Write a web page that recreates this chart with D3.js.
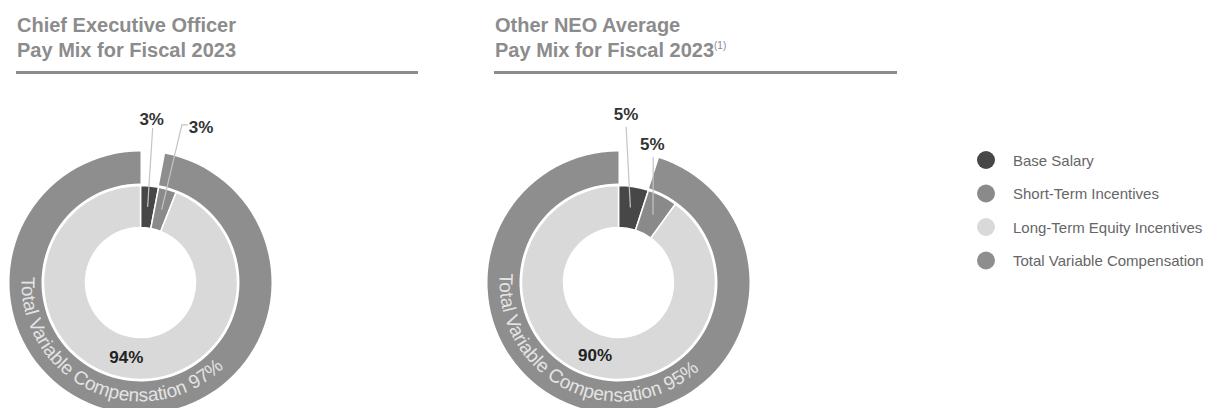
<!DOCTYPE html>
<html>
<head>
<meta charset="utf-8">
<script src="https://cdn.jsdelivr.net/npm/d3@7/dist/d3.min.js"></script>
<style>
  html, body { margin: 0; padding: 0; background: #fff; }
  svg { display: block; font-family: "Liberation Sans", Arial, Helvetica, sans-serif; }
</style>
</head>
<body>
<svg id="chart" width="1215" height="408"></svg>
<script>
// Pay mix data
const categories = ["Base Salary", "Short-Term Incentives", "Long-Term Equity Incentives", "Total Variable Compensation"];
const categoryColors = ["#474747", "#8a8a8a", "#d9d9d9", "#8e8e8e"];

const chartTitles = [
  ["Chief Executive Officer", "Pay Mix for Fiscal 2023"],
  ["Other NEO Average", "Pay Mix for Fiscal 2023"]
];
const titleNotes = ["", "(1)"];

// Base salary, short-term incentives, long-term equity incentives (%)
const ceoMix = [3, 3, 94];
const neoMix = [5, 5, 90];
// Total variable compensation (%)
const ceoVariable = 97;
const neoVariable = 95;

const svg = d3.select("#chart");

// Layout for each donut panel
const panels = [
  {
    x: 17, cx: 140.5, cy: 282.5, ruleEnd: 418,
    mix: ceoMix, variable: ceoVariable, textStart: 272.8,
    leaders: [
      { slice: 0, r: 155, deg: 4.5, stub: 0, dx: -1, dy: -3, anchor: "middle" },
      { slice: 1, r: 163, deg: 14.7, stub: 6, dx: 1, dy: 8, anchor: "start" }
    ]
  },
  {
    x: 495, cx: 618.5, cy: 282.5, ruleEnd: 897,
    mix: neoMix, variable: neoVariable, textStart: 274.5,
    leaders: [
      { slice: 0, r: 156, deg: 2.8, stub: 0, dx: 0, dy: -7, anchor: "middle" },
      { slice: 1, r: 130, deg: 15.5, stub: 0, dx: -1, dy: -7, anchor: "middle" }
    ]
  }
];

const innerArc = d3.arc().innerRadius(55).outerRadius(97);
const outerArc = d3.arc().innerRadius(99).outerRadius(131);
const pie = d3.pie().sort(null).value(d => d);

const polar = (r, deg) => {
  const a = deg * Math.PI / 180;
  return [r * Math.sin(a), -r * Math.cos(a)];
};

panels.forEach((p, i) => {
  // Title block
  const title = svg.append("text")
    .attr("x", p.x).attr("y", 31.5)
    .attr("fill", "#8c8c8c")
    .attr("font-size", 20).attr("font-weight", "bold");
  title.append("tspan").attr("x", p.x).text(chartTitles[i][0]);
  title.append("tspan").attr("x", p.x).attr("dy", 25).text(chartTitles[i][1]);
  if (titleNotes[i]) {
    title.append("tspan").attr("dy", -8).attr("font-size", 10).attr("font-weight", "normal").text(titleNotes[i]);
  }
  svg.append("line")
    .attr("x1", p.x - 1).attr("x2", p.ruleEnd)
    .attr("y1", 72.5).attr("y2", 72.5)
    .attr("stroke", "#8c8c8c").attr("stroke-width", 3.2);

  const g = svg.append("g").attr("transform", `translate(${p.cx},${p.cy})`);

  // Outer ring: the part of pay that is variable
  const ringArcs = pie([100 - p.variable, p.variable]);
  g.append("path")
    .attr("d", outerArc(ringArcs[1]))
    .attr("fill", categoryColors[3]);

  // Inner donut: base, short-term, long-term
  const arcs = pie(p.mix);
  g.selectAll("path.slice")
    .data(arcs)
    .join("path")
    .attr("class", "slice")
    .attr("d", innerArc)
    .attr("fill", (d, k) => categoryColors[k])
    .attr("stroke", "#fff")
    .attr("stroke-width", 1.5);

  // Curved label along the outer ring, set word by word on one arc
  const rt = 119;
  const s = polar(rt, p.textStart);
  const e = polar(rt, 60);
  const pathId = `ringPath${i}`;
  g.append("path")
    .attr("id", pathId)
    .attr("d", `M${s[0]},${s[1]} A${rt},${rt} 0 1 0 ${e[0]},${e[1]}`)
    .attr("fill", "none");
  const ringLabel = `${categories[3]} ${p.variable}%`;
  const probe = g.append("text").attr("font-size", 19).attr("visibility", "hidden");
  const probePath = probe.append("textPath").attr("href", `#${pathId}`).text(ringLabel);
  const words = [];
  let idx = 0;
  ringLabel.split(" ").forEach(w => {
    const off = idx === 0 ? 0 : probePath.node().getSubStringLength(0, idx);
    words.push({ w, off });
    idx += w.length + 1;
  });
  probe.remove();
  words.forEach(({ w, off }) => {
    g.append("text")
      .attr("font-size", 19)
      .attr("fill", "#e4e4e4")
      .append("textPath")
      .attr("href", `#${pathId}`)
      .attr("startOffset", off)
      .text(w);
  });

  // Large slice value inside the donut
  const big = arcs[2];
  const c = innerArc.centroid(big);
  g.append("text")
    .attr("x", c[0]).attr("y", c[1] + 6)
    .attr("text-anchor", "middle")
    .attr("font-size", 17).attr("font-weight", "bold")
    .attr("fill", "#222")
    .text(`${p.mix[2]}%`);

  // Small slices get leader lines
  p.leaders.forEach(L => {
    const a = arcs[L.slice];
    const from = innerArc.centroid(a);
    const to = polar(L.r, L.deg);
    const pts = [from, to];
    if (L.stub) pts.push([to[0] + L.stub, to[1]]);
    g.append("path")
      .attr("d", d3.line()(pts))
      .attr("fill", "none")
      .attr("stroke", "#c4c4c4")
      .attr("stroke-width", 1.2);
    const last = pts[pts.length - 1];
    g.append("text")
      .attr("x", last[0] + L.dx).attr("y", last[1] + L.dy)
      .attr("text-anchor", L.anchor)
      .attr("font-size", 17).attr("font-weight", "bold")
      .attr("fill", "#333")
      .text(`${p.mix[L.slice]}%`);
  });
});

// Legend
const legend = svg.append("g").attr("transform", "translate(986,160)");
const item = legend.selectAll("g")
  .data(categories)
  .join("g")
  .attr("transform", (d, k) => `translate(0,${k * 33.5})`);
item.append("circle")
  .attr("r", 9)
  .attr("fill", (d, k) => categoryColors[k]);
item.append("text")
  .attr("x", 27).attr("y", 5.5)
  .attr("font-size", 15)
  .attr("fill", "#666")
  .text(d => d);
</script>
</body>
</html>
